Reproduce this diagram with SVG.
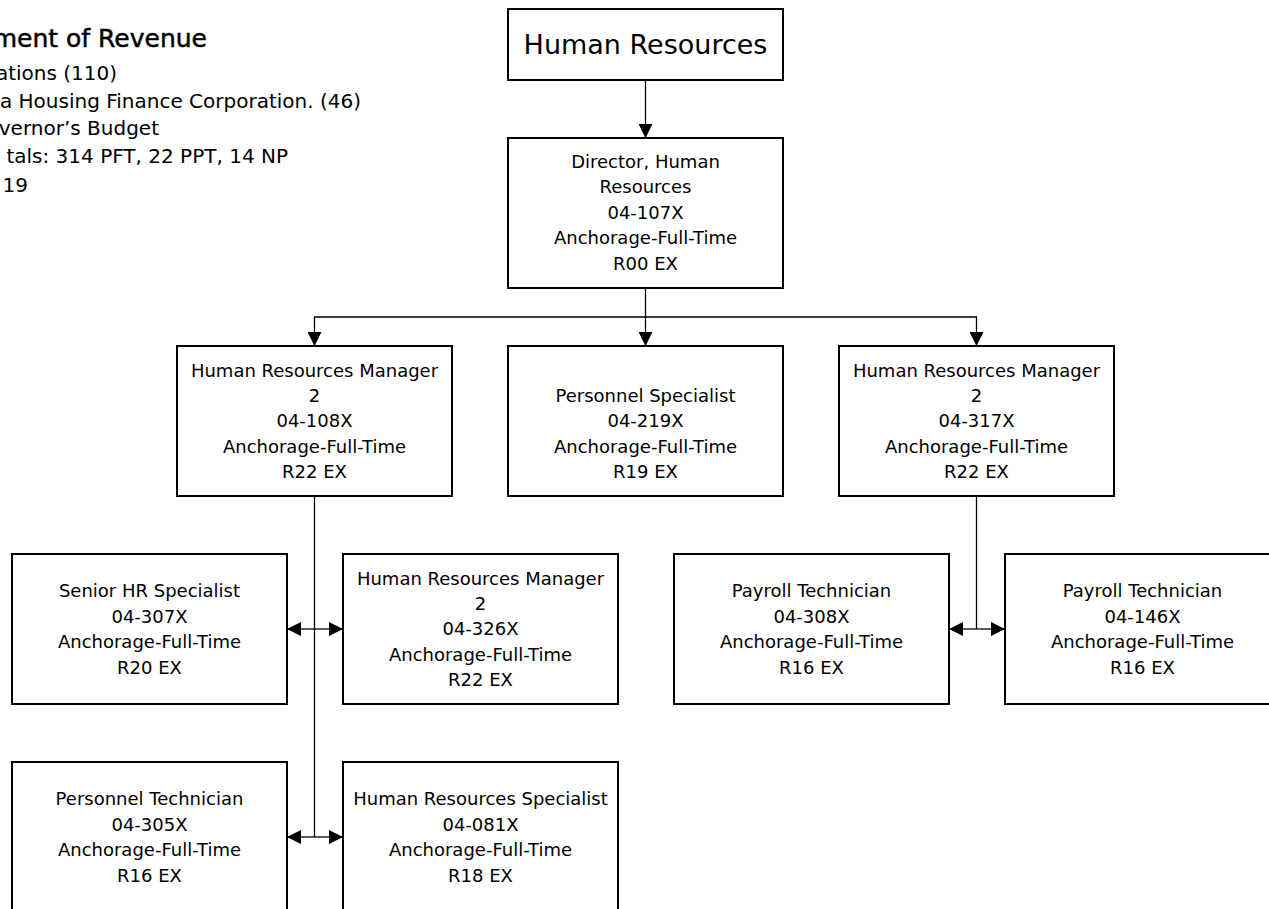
<svg xmlns="http://www.w3.org/2000/svg" width="1269" height="909" viewBox="0 0 1269 909">
<style>
.box{fill:#fff;stroke:#000;stroke-width:2}
.t{font-family:"DejaVu Sans","Liberation Sans",sans-serif;font-size:18px;fill:#000;text-anchor:middle}
.h{font-family:"DejaVu Sans","Liberation Sans",sans-serif;font-size:20px;fill:#000;text-anchor:end}
.c{fill:none;stroke:#000;stroke-width:1.3}
</style>
<defs>
<marker id="ah" markerUnits="userSpaceOnUse" markerWidth="14" markerHeight="14" refX="14" refY="7" orient="auto">
<path d="M0,0 L14,7 L0,14 z" fill="#000"/>
</marker>
</defs>
<rect width="1269" height="909" fill="#fff"/>
<g id="header">
<text class="h" x="207" y="47" style="font-size:25px" stroke="#000" stroke-width="0.5">ment of Revenue</text>
<text class="h" x="117" y="80">ations (110)</text>
<text class="h" x="361" y="108">a Housing Finance Corporation. (46)</text>
<text class="h" x="159" y="135">vernor’s Budget</text>
<text class="h" x="288" y="163">tals: 314 PFT, 22 PPT, 14 NP</text>
<text class="h" x="28" y="192">19</text>
</g>
<g id="connectors">
<path class="c" d="M645.5,80 V138" marker-end="url(#ah)"/>
<path class="c" d="M645.5,288 V346" marker-end="url(#ah)"/>
<path class="c" d="M645.5,317 H314.5 V346" marker-end="url(#ah)"/>
<path class="c" d="M645.5,317 H976.5 V346" marker-end="url(#ah)"/>
<path class="c" d="M314.5,496 V837"/>
<path class="c" d="M314.5,629 H287" marker-end="url(#ah)"/>
<path class="c" d="M314.5,629 H343" marker-end="url(#ah)"/>
<path class="c" d="M314.5,837 H287" marker-end="url(#ah)"/>
<path class="c" d="M314.5,837 H343" marker-end="url(#ah)"/>
<path class="c" d="M976.5,496 V629"/>
<path class="c" d="M976.5,629 H949" marker-end="url(#ah)"/>
<path class="c" d="M976.5,629 H1005" marker-end="url(#ah)"/>
</g>
<g id="n-title">
<rect class="box" x="508" y="9" width="275" height="71"/>
<text class="t" x="645.5" y="54" style="font-size:27px">Human Resources</text>
</g>
<g id="n-director">
<rect class="box" x="508" y="138" width="275" height="150"/>
<text class="t" x="645.5" y="168">Director, Human</text>
<text class="t" x="645.5" y="193.4">Resources</text>
<text class="t" x="645.5" y="218.8">04-107X</text>
<text class="t" x="645.5" y="244.2">Anchorage-Full-Time</text>
<text class="t" x="645.5" y="269.6">R00 EX</text>
</g>
<g id="n-hrm108">
<rect class="box" x="177" y="346" width="275" height="150"/>
<text class="t" x="314.5" y="376.6">Human Resources Manager</text>
<text class="t" x="314.5" y="402">2</text>
<text class="t" x="314.5" y="427.4">04-108X</text>
<text class="t" x="314.5" y="452.8">Anchorage-Full-Time</text>
<text class="t" x="314.5" y="478.2">R22 EX</text>
</g>
<g id="n-ps219">
<rect class="box" x="508" y="346" width="275" height="150"/>
<text class="t" x="645.5" y="402">Personnel Specialist</text>
<text class="t" x="645.5" y="427.4">04-219X</text>
<text class="t" x="645.5" y="452.8">Anchorage-Full-Time</text>
<text class="t" x="645.5" y="478.2">R19 EX</text>
</g>
<g id="n-hrm317">
<rect class="box" x="839" y="346" width="275" height="150"/>
<text class="t" x="976.5" y="376.6">Human Resources Manager</text>
<text class="t" x="976.5" y="402">2</text>
<text class="t" x="976.5" y="427.4">04-317X</text>
<text class="t" x="976.5" y="452.8">Anchorage-Full-Time</text>
<text class="t" x="976.5" y="478.2">R22 EX</text>
</g>
<g id="n-shr307">
<rect class="box" x="12" y="554" width="275" height="150"/>
<text class="t" x="149.5" y="597.3">Senior HR Specialist</text>
<text class="t" x="149.5" y="622.7">04-307X</text>
<text class="t" x="149.5" y="648.1">Anchorage-Full-Time</text>
<text class="t" x="149.5" y="673.5">R20 EX</text>
</g>
<g id="n-hrm326">
<rect class="box" x="343" y="554" width="275" height="150"/>
<text class="t" x="480.5" y="584.6">Human Resources Manager</text>
<text class="t" x="480.5" y="610">2</text>
<text class="t" x="480.5" y="635.4">04-326X</text>
<text class="t" x="480.5" y="660.8">Anchorage-Full-Time</text>
<text class="t" x="480.5" y="686.2">R22 EX</text>
</g>
<g id="n-pt308">
<rect class="box" x="674" y="554" width="275" height="150"/>
<text class="t" x="811.5" y="597.3">Payroll Technician</text>
<text class="t" x="811.5" y="622.7">04-308X</text>
<text class="t" x="811.5" y="648.1">Anchorage-Full-Time</text>
<text class="t" x="811.5" y="673.5">R16 EX</text>
</g>
<g id="n-pt146">
<rect class="box" x="1005" y="554" width="275" height="150"/>
<text class="t" x="1142.5" y="597.3">Payroll Technician</text>
<text class="t" x="1142.5" y="622.7">04-146X</text>
<text class="t" x="1142.5" y="648.1">Anchorage-Full-Time</text>
<text class="t" x="1142.5" y="673.5">R16 EX</text>
</g>
<g id="n-pt305">
<rect class="box" x="12" y="762" width="275" height="150"/>
<text class="t" x="149.5" y="805.3">Personnel Technician</text>
<text class="t" x="149.5" y="830.7">04-305X</text>
<text class="t" x="149.5" y="856.1">Anchorage-Full-Time</text>
<text class="t" x="149.5" y="881.5">R16 EX</text>
</g>
<g id="n-hrs081">
<rect class="box" x="343" y="762" width="275" height="150"/>
<text class="t" x="480.5" y="805.3">Human Resources Specialist</text>
<text class="t" x="480.5" y="830.7">04-081X</text>
<text class="t" x="480.5" y="856.1">Anchorage-Full-Time</text>
<text class="t" x="480.5" y="881.5">R18 EX</text>
</g>
</svg>
